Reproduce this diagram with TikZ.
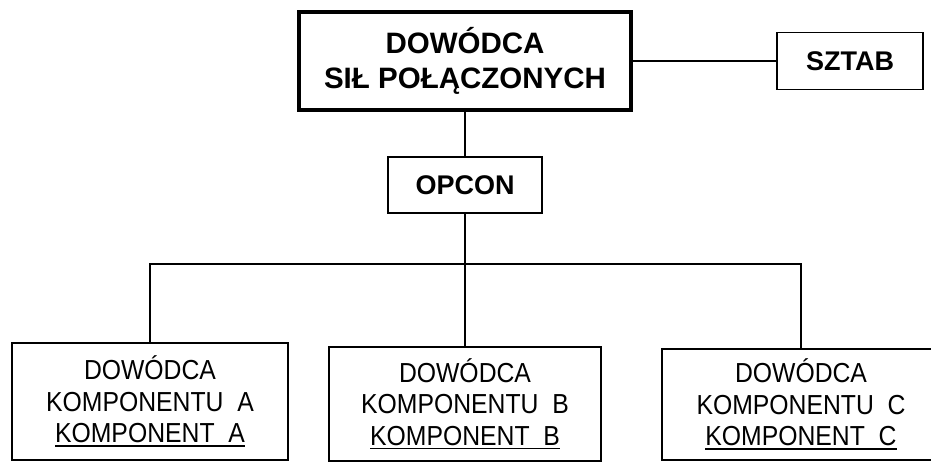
\documentclass[tikz,border=0pt]{standalone}
\usepackage{fontspec}
\setmainfont{Liberation Sans}
\newfontfamily\waski[FakeStretch=0.9]{Liberation Sans}
\usetikzlibrary{positioning}

% podkreslenie nazwy komponentu
\newcommand{\podkr}[1]{\setbox0\hbox{#1}\rlap{\rule[-4pt]{\wd0}{1.8pt}}\box0}

\begin{document}
\begin{tikzpicture}[x=1pt,y=-1pt,
  glowny/.style={draw,line width=4.5pt,minimum width=332pt,minimum height=98pt,
    align=center,font=\fontsize{29.5}{35}\selectfont\bfseries},
  maly/.style={draw,line width=1.8pt,minimum height=57pt,
    align=center,font=\fontsize{27}{30}\selectfont\bfseries},
  komp/.style={draw,line width=2.8pt,align=center,
    font=\waski\fontsize{27.5}{31.5}\selectfont},
  linia/.style={line width=1.8pt}]

\useasboundingbox[fill=white] (0,0) rectangle (931,463);

% Dowodca sil polaczonych
\node[glowny] (dowodca) at (465,61) {DOWÓDCA\\SIŁ POŁĄCZONYCH};

% Sztab
\node[maly,minimum width=146pt] (sztab) at (850,61) {SZTAB};

% Opcon
\node[maly,minimum width=154pt,minimum height=56pt] (opcon) at (465,185) {OPCON};

% Komponenty
\node[komp,minimum width=276pt,minimum height=117pt] (kompA) at (150,401.5)
  {DOWÓDCA\\KOMPONENTU\ \ A\\\podkr{KOMPONENT\ \ A}};
\node[komp,minimum width=272pt,minimum height=114pt] (kompB) at (465,404)
  {DOWÓDCA\\KOMPONENTU\ \ B\\\podkr{KOMPONENT\ \ B}};
\node[komp,minimum width=278pt,minimum height=111pt] (kompC) at (801,404.5)
  {DOWÓDCA\\KOMPONENTU\ \ C\\\podkr{KOMPONENT\ \ C}};

% Polaczenia
\coordinate (szyna) at (465,264);
\draw[linia] (dowodca) -- (sztab);
\draw[linia] (dowodca.south) -- (opcon.north);
\draw[linia] (opcon.south) -- (kompB.north);
\draw[linia] (kompA.north) |- (szyna) -| (kompC.north);

\end{tikzpicture}
\end{document}
